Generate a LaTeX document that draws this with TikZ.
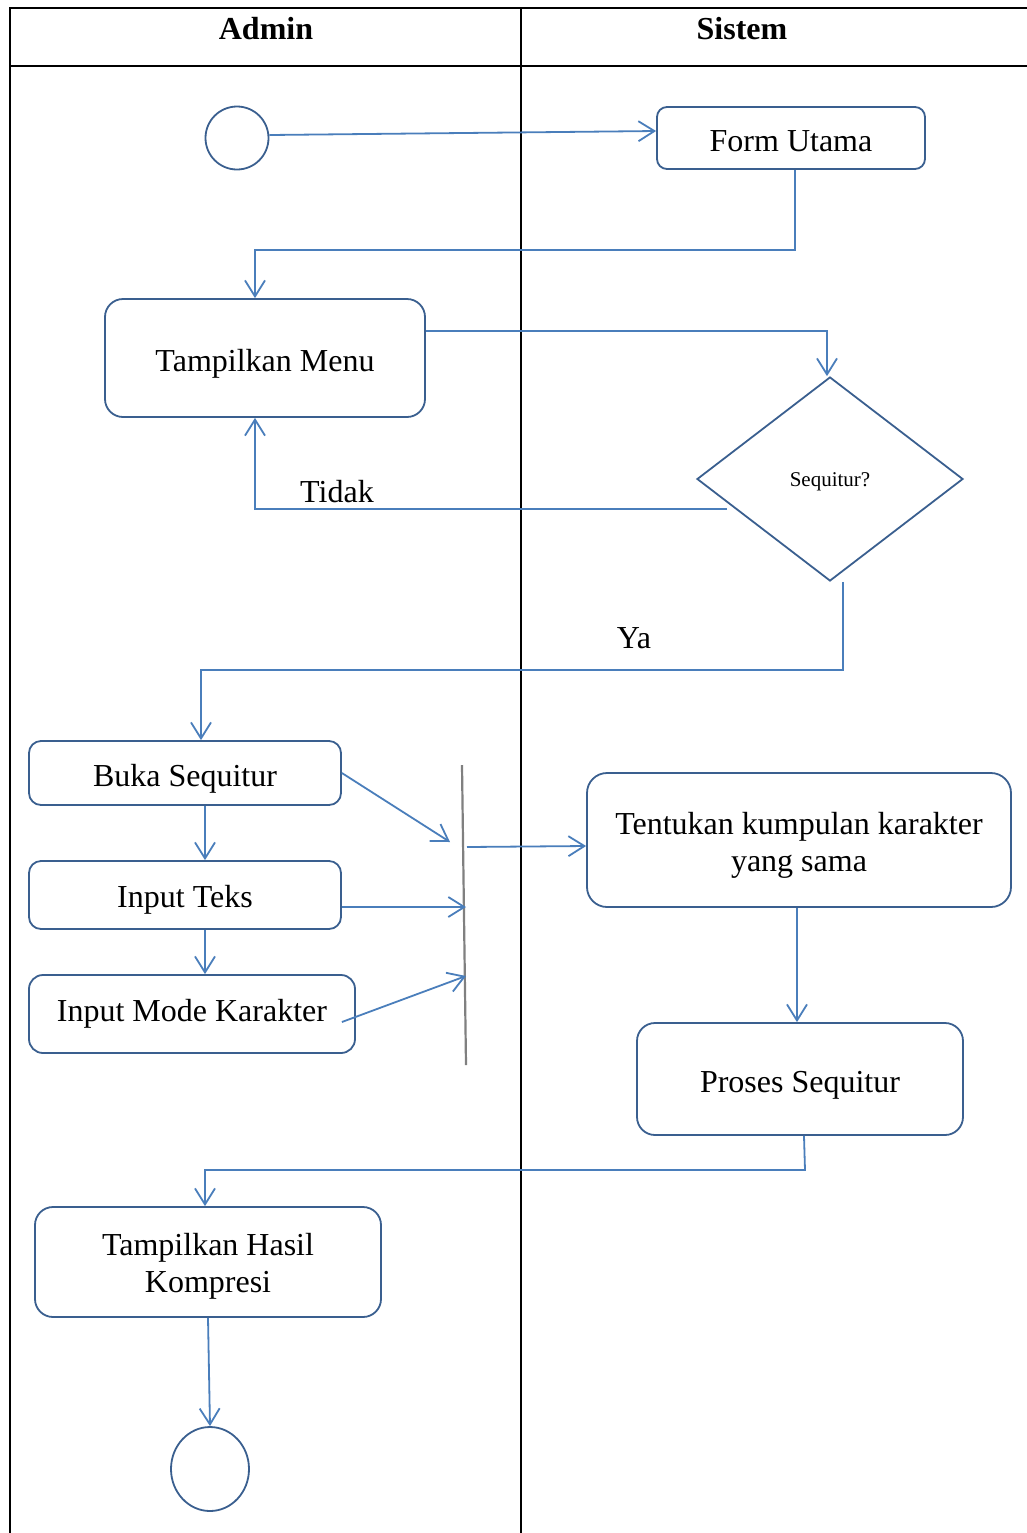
\documentclass[tikz,border=0pt]{standalone}
\usepackage{fontspec}
\setmainfont{Liberation Serif}
\usetikzlibrary{shapes.geometric,arrows.meta,calc}
\definecolor{linkblue}{HTML}{4A7EBB}
\definecolor{edgeblue}{HTML}{3A5F8F}
\begin{document}
\begin{tikzpicture}[x=0.5pt,y=-0.5pt,
  every node/.style={font=\fontsize{16}{18.5}\selectfont, text=black},
  actbox/.style={draw=edgeblue, line width=0.9pt, rounded corners=#1, align=center, inner sep=0pt},
  actbox/.default=6pt,
  lowtext/.style={text height=13pt, text depth=0pt},
  arr/.style={draw=linkblue, line width=0.9pt, -{Straight Barb[length=8pt,width=10pt,line width=0.9pt]}},
  lane/.style={draw=black, line width=1.2pt},
  hdr/.style={font=\fontsize{16}{18.5}\selectfont\bfseries}]
\useasboundingbox (0,0) rectangle (1027,1533);
% swimlane table
\draw[lane] (10,1533) -- (10,8) -- (1027,8);
\draw[lane] (10,66) -- (1027,66);
\draw[lane] (521,8) -- (521,1533);
\node[hdr] (hadmin) at (266,29) {Admin};
\node[hdr] (hsistem) at (742,29) {Sistem};
% nodes
\node[draw=edgeblue, line width=0.9pt, circle, minimum size=31.5pt, inner sep=0pt] (start) at (237,138) {};
\node[actbox=5pt, lowtext, minimum width=134pt, minimum height=31pt] (form) at (791,138) {Form Utama};
\node[actbox=9pt, lowtext, minimum width=160pt, minimum height=59pt] (menu) at (265,358) {Tampilkan Menu};
\node[draw=edgeblue, line width=0.9pt, diamond, minimum width=133pt, minimum height=102pt, inner sep=0pt, text height=9pt, text depth=2pt, font=\fontsize{10.5}{12}\selectfont] (dia) at (830,479) {Sequitur?};
\node[actbox=6pt, lowtext, minimum width=156pt, minimum height=32pt] (buka) at (185,773) {Buka Sequitur};
\node[actbox=6pt, text height=12.5pt, text depth=0pt, minimum width=156pt, minimum height=34pt] (teks) at (185,895) {Input Teks};
\node[actbox=7pt, minimum width=163pt, minimum height=39pt] (mode) at (192,1014) {Input Mode Karakter};
\node[actbox=10pt, minimum width=212pt, minimum height=67pt] (tentukan) at (799,840) {\rule{0pt}{16pt}Tentukan kumpulan karakter\\yang sama};
\node[actbox=9pt, lowtext, minimum width=163pt, minimum height=56pt] (proses) at (800,1079) {Proses Sequitur};
\node[actbox=9pt, minimum width=173pt, minimum height=55pt] (hasil) at (208,1262) {\rule{0pt}{15pt}Tampilkan Hasil\\Kompresi};
\node[draw=edgeblue, line width=0.9pt, ellipse, minimum width=39pt, minimum height=42pt, inner sep=0pt] (end) at (210,1469) {};
% fork bar
\coordinate (bartop) at (462,765);
\coordinate (barbot) at (466,1065);
\draw[draw=gray, line width=1.1pt] (bartop) -- (barbot);
\coordinate (j1) at (450,842);
\coordinate (j2) at (466,907);
\coordinate (j3) at (466,976);
\coordinate (j4) at (467,847);
% labels
\node (ltidak) at (337,492) {Tidak};
\node (lya) at (634,638) {Ya};
% connectors
\draw[arr] ([yshift=1.5pt]start.east) -- ([yshift=3.5pt]form.west);
\draw[arr] ([xshift=2pt]form.south) -- ++(0,80) -| ([xshift=-5pt]menu.north);
\draw[arr] ([yshift=13.5pt]menu.east) -| ([xshift=-1.5pt]dia.north);
\draw[arr] ([shift={(15.5pt,-15pt)}]dia.west) -| ([xshift=-5pt]menu.south);
\draw[arr] ([xshift=6.5pt]dia.south) -- ++(0,88) -| ([xshift=8pt]buka.north);
\draw[arr] ([xshift=10pt]buka.south) -- ([xshift=10pt]teks.north);
\draw[arr] ([xshift=10pt]teks.south) -- ([xshift=6.5pt]mode.north);
\draw[arr] (buka.east) -- (j1);
\draw[arr] ([yshift=-6pt]teks.east) -- (j2);
\draw[arr] ([shift={(-7pt,-4pt)}]mode.east) -- (j3);
\draw[arr] (j4) -- ([yshift=-3pt]tentukan.west);
\draw[arr] ([xshift=-1pt]tentukan.south) -- ([xshift=-1.5pt]proses.north);
\draw[arr] ([xshift=2pt]proses.south) -- ++(1,34) -| ([xshift=-1.5pt]hasil.north);
\draw[arr] (hasil.south) -- (end.north);
\end{tikzpicture}
\end{document}
